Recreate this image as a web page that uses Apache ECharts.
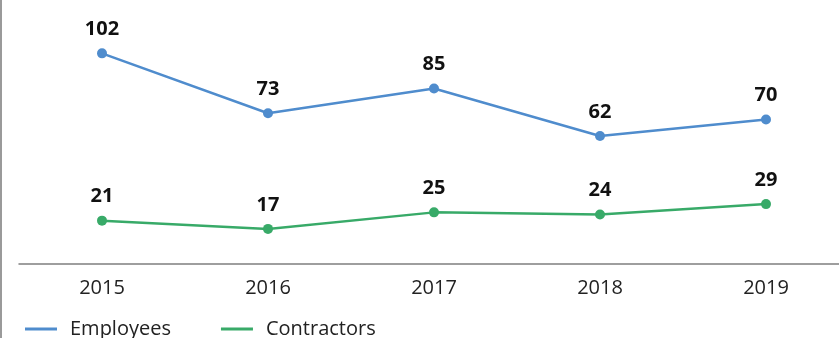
<!DOCTYPE html>
<html>
<head>
<meta charset="utf-8">
<script src="https://cdn.jsdelivr.net/npm/echarts@6/dist/echarts.min.js"></script>
<style>
  html, body { margin: 0; padding: 0; background: #fff; }
  #chart { width: 839px; height: 338px; }
</style>
</head>
<body>
<div id="chart"></div>
<script>
const years = ['2015', '2016', '2017', '2018', '2019'];
const employees = [102, 73, 85, 62, 70];
const contractors = [21, 17, 25, 24, 29];

const FONT = '"Open Sans", "Noto Sans", sans-serif';
const BLUE = '#4F8CCD';
const GREEN = '#38AA68';

const chart = echarts.init(document.getElementById('chart'), null, { renderer: 'canvas' });

function lineSeries(name, data, color) {
  return {
    name: name,
    type: 'line',
    data: data,
    color: color,
    symbol: 'circle',
    symbolSize: 10,
    lineStyle: { width: 2.5, color: color },
    itemStyle: { color: color },
    label: {
      show: true,
      position: 'top',
      distance: 9,
      fontFamily: FONT,
      fontWeight: 'bold',
      fontSize: 20,
      color: '#111'
    }
  };
}

chart.setOption({
  animation: false,
  backgroundColor: '#fff',
  // plot area runs a little past the right edge of the canvas
  grid: { left: 19, top: 10, width: 830, height: 254, outerBoundsMode: 'none', containLabel: false },
  legend: {
    left: 20,
    top: 314,
    itemWidth: 32,
    itemHeight: 3,
    itemGap: 50,
    icon: 'rect',
    textStyle: { fontFamily: FONT, fontSize: 20, color: '#222', padding: [0, 0, 0, 8] },
    data: ['Employees', 'Contractors']
  },
  xAxis: {
    type: 'category',
    data: years,
    boundaryGap: true,
    axisLine: { lineStyle: { color: '#7f7f7f', width: 1.5 } },
    axisTick: { show: false },
    axisLabel: { fontFamily: FONT, fontSize: 20, color: '#222', margin: 14 }
  },
  yAxis: {
    type: 'value',
    min: 0,
    max: 123,
    show: false
  },
  graphic: [{
    type: 'line',
    shape: { x1: 1, y1: 0, x2: 1, y2: 338 },
    style: { stroke: '#9a9a9a', lineWidth: 2 }
  }],
  series: [
    lineSeries('Employees', employees, BLUE),
    lineSeries('Contractors', contractors, GREEN)
  ]
});
</script>
</body>
</html>
